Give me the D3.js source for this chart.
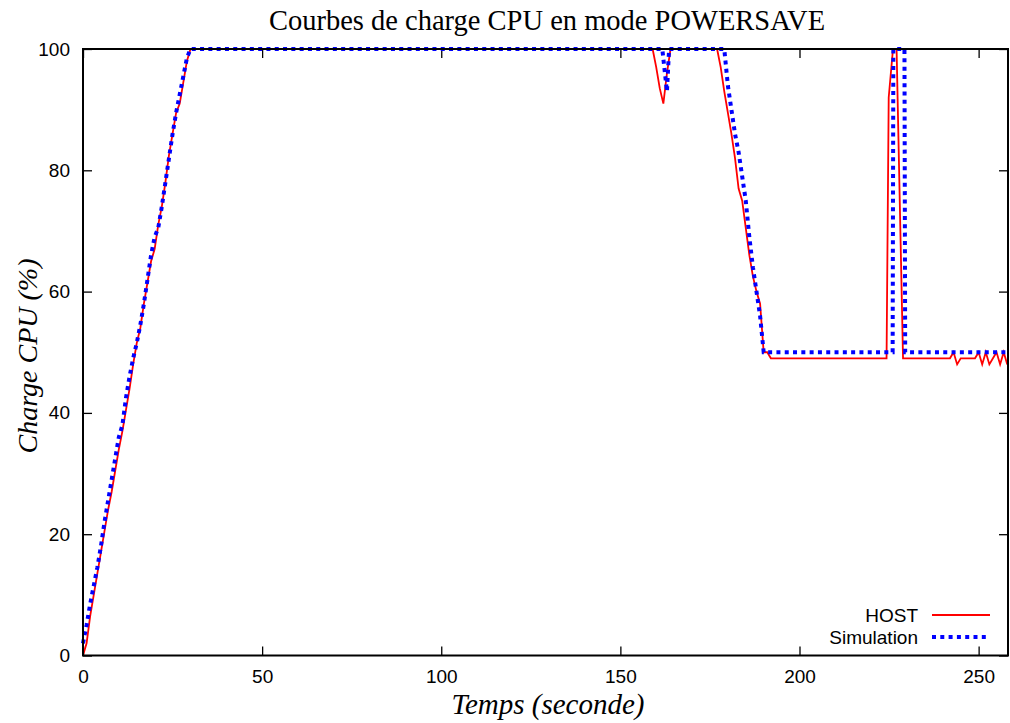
<!DOCTYPE html>
<html>
<head>
<meta charset="utf-8">
<script src="https://cdn.jsdelivr.net/npm/d3@7"></script>
<style>
  html, body { margin: 0; padding: 0; background: #fff; }
  svg { display: block; }
</style>
</head>
<body>
<svg id="chart" width="1010" height="723"></svg>
<script>
// CPU load (%) over time (s), measured on the host
const hostTime = [0,1,2,3,4,5,6,7,8,9,10,11,12,13,14,15,16,17,18,19,20,21,22,23,24,25,26,27,28,29,30,
  159,160,161,162,163,164,
  177,178,179,180,181,182,183,184,185,186,187,188,189,190,191,192,
  224.3,224.9,226.1,227.1,228.9,
  242,243,244,245,249,250,251,252,253,254,255,256,257,258];
const hostLoad = [0,2,6.5,10,13.5,17,20.5,24,27,30.5,34,37,40.5,44,48,51.5,54,58,61.5,65,67,71,74,78,82.5,86,89.5,91,94.5,98,100,
  100,97,93.5,91,96,100,
  100,97,93,89.5,86,82,77,75,70.5,66,62.5,60,58,50,50,49,
  49,92,100,100,49,
  49,50,48,49,49,50,48,50,48,49,50,48,50,48];

// CPU load (%) over time (s), simulated
const simTime = [0,1,2,3,4,5,6,7,8,9,10,11,12,13,14,15,16,17,18,19,20,21,22,23,24,25,26,27,28,29,30,
  161.7,163,163.6,
  179,180,181,182,183,184,185,186,187,188,189,190,
  226,226.2,229.3,229.5,258];
const simLoad = [2,5,8.5,11.5,14.5,18,22,25.5,29,32.5,36,38,42.5,46,49,51.5,54.5,58,62,66,69,70.5,74,78,82,86,89.5,92.5,95.5,98.5,100,
  100,93,100,
  100,94,90,86,83,79,75,69,64,60,56,50,
  50,100,100,50,50];

const xTicks = [0, 50, 100, 150, 200, 250];
const yTicks = [0, 20, 40, 60, 80, 100];

const titleText = "Courbes de charge CPU en mode POWERSAVE";
const xLabel = "Temps (seconde)";
const yLabel = "Charge CPU (%)";
const seriesNames = ["HOST", "Simulation"];

const svg = d3.select("#chart");
const plot = { left: 83, right: 1008, top: 49, bottom: 655.5 };

const x = d3.scaleLinear().domain([0, 258.2]).range([plot.left, plot.right]);
const y = d3.scaleLinear().domain([0, 100]).range([plot.bottom, plot.top]);

const sans = "'Liberation Sans', Arial, sans-serif";
const serif = "'Liberation Serif', 'Times New Roman', serif";

// Axes: labels outside, ticks pointing inward
const xAxis = svg.append("g")
  .attr("transform", `translate(0,${plot.bottom})`)
  .call(d3.axisBottom(x).tickValues(xTicks).tickSize(-9).tickPadding(14).tickFormat(d3.format("d")));
const yAxis = svg.append("g")
  .attr("transform", `translate(${plot.left},0)`)
  .call(d3.axisLeft(y).tickValues(yTicks).tickSize(-9).tickPadding(13).tickFormat(d3.format("d")));
// Mirrored ticks on the top and right edges
const xAxisTop = svg.append("g")
  .attr("transform", `translate(0,${plot.top})`)
  .call(d3.axisTop(x).tickValues(xTicks).tickSize(-9).tickFormat(""));
const yAxisRight = svg.append("g")
  .attr("transform", `translate(${plot.right},0)`)
  .call(d3.axisRight(y).tickValues(yTicks).tickSize(-9).tickFormat(""));

[xAxis, yAxis, xAxisTop, yAxisRight].forEach(g => {
  g.select(".domain").remove();
  g.selectAll(".tick line").attr("stroke", "#000").attr("stroke-width", 1.3);
  g.selectAll(".tick text").attr("font-family", sans).attr("font-size", 19).attr("fill", "#000");
});

// Data lines
const line = d3.line().x(d => x(d[0])).y(d => y(d[1]));
const hostData = hostTime.map((t, i) => [t, hostLoad[i]]);
const simData = simTime.map((t, i) => [t, simLoad[i]]);

svg.append("path").datum(hostData)
  .attr("d", line).attr("fill", "none")
  .attr("stroke", "#ff0000").attr("stroke-width", 1.8).attr("stroke-linejoin", "miter");

svg.append("path").datum(simData)
  .attr("d", line).attr("fill", "none")
  .attr("stroke", "#0000ff").attr("stroke-width", 4)
  .attr("stroke-dasharray", "4,4.3");

// Frame
svg.append("rect")
  .attr("x", plot.left).attr("y", plot.top)
  .attr("width", plot.right - plot.left).attr("height", plot.bottom - plot.top)
  .attr("fill", "none").attr("stroke", "#000").attr("stroke-width", 2);

// Legend
const legend = svg.append("g").attr("font-family", sans).attr("font-size", 19);
const legendStyles = [
  { color: "#ff0000", width: 1.8, dash: null },
  { color: "#0000ff", width: 4, dash: "4,4.3" }
];
seriesNames.forEach((name, i) => {
  const ly = 615 + i * 22;
  legend.append("text").attr("x", 918).attr("y", ly).attr("dy", "0.35em")
    .attr("text-anchor", "end").attr("fill", "#000").text(name);
  legend.append("line")
    .attr("x1", 932).attr("x2", 990).attr("y1", ly).attr("y2", ly)
    .attr("stroke", legendStyles[i].color).attr("stroke-width", legendStyles[i].width)
    .attr("stroke-dasharray", legendStyles[i].dash);
});

// Title and axis labels
svg.append("text").attr("x", 547).attr("y", 30)
  .attr("text-anchor", "middle").attr("font-family", serif).attr("font-size", 28.5)
  .attr("fill", "#000").text(titleText);

svg.append("text").attr("x", 548).attr("y", 714)
  .attr("text-anchor", "middle").attr("font-family", serif).attr("font-style", "italic")
  .attr("font-size", 29).attr("fill", "#000").text(xLabel);

svg.append("text").attr("transform", `translate(37,356) rotate(-90)`)
  .attr("text-anchor", "middle").attr("font-family", serif).attr("font-style", "italic")
  .attr("font-size", 28).attr("fill", "#000").text(yLabel);
</script>
</body>
</html>
